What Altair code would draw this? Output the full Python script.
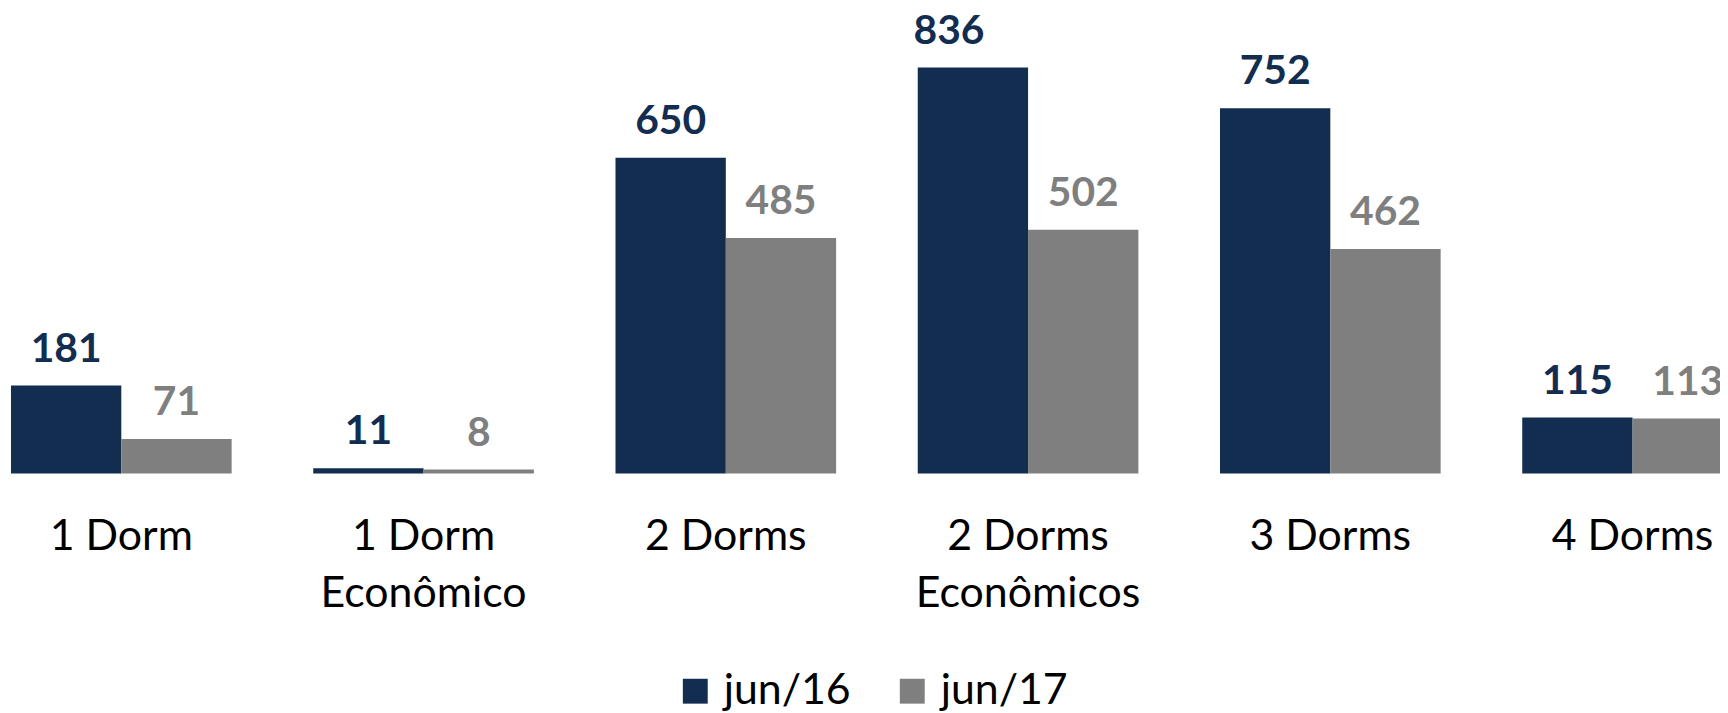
import altair as alt
import pandas as pd

categories = ["1 Dorm", "1 Dorm Econômico", "2 Dorms", "2 Dorms Econômicos", "3 Dorms", "4 Dorms"]
series = ["jun/16", "jun/17"]
jun16 = [181, 11, 650, 836, 752, 115]
jun17 = [71, 8, 485, 502, 462, 113]

rows = []
for c, a, b in zip(categories, jun16, jun17):
    rows.append({"cat": c, "serie": series[0], "valor": a})
    rows.append({"cat": c, "serie": series[1], "valor": b})
df = pd.DataFrame(rows)

NAVY = "#122D50"
GRAY = "#7F7F7F"
FONT = "Lato"

label_expr = (
    "indexof(datum.value, ' Econ') > 0 ? "
    "[slice(datum.value, 0, indexof(datum.value, ' Econ')), "
    "slice(datum.value, indexof(datum.value, ' Econ') + 1)] : datum.value"
)

x = alt.X(
    "cat:N",
    sort=categories,
    scale=alt.Scale(range=[3, 1743], paddingInner=0.27, paddingOuter=0, round=False),
    axis=alt.Axis(
        title=None, domain=False, ticks=False, grid=False, labelAngle=0,
        labelFont=FONT, labelFontSize=43, labelColor="black",
        labelPadding=42, labelLineHeight=58, labelLimit=500,
        labelExpr=label_expr, labelBaseline="top",
    ),
)
xo = alt.XOffset("serie:N", sort=series, scale=alt.Scale(paddingInner=0, paddingOuter=0))
y = alt.Y("valor:Q", scale=alt.Scale(domain=[0, 955], nice=False), axis=None)
color_scale = alt.Scale(domain=series, range=[NAVY, GRAY])

base = alt.Chart(df)

bars = base.mark_bar(cornerRadius=0).encode(
    x=x, xOffset=xo, y=y,
    color=alt.Color(
        "serie:N", sort=series, scale=color_scale,
        legend=alt.Legend(
            title=None, orient="none", direction="horizontal",
            legendX=669, legendY=663, padding=0,
            symbolType="square", symbolSize=625, symbolStrokeWidth=0,
            symbolOpacity=1, labelFont=FONT, labelFontSize=43,
            labelColor="black", labelOffset=7, columnPadding=40,
            labelLimit=300,
        ),
    ),
)

labels_main = base.transform_filter(
    "!(datum.cat == '2 Dorms Econômicos' && datum.serie == 'jun/16')"
).mark_text(
    font=FONT, fontSize=41, fontWeight="bold", baseline="alphabetic", dy=-24
).encode(
    x=x, xOffset=xo, y=y, text="valor:Q",
    color=alt.Color("serie:N", sort=series, scale=color_scale, legend=None),
)

labels_shift = base.transform_filter(
    "datum.cat == '2 Dorms Econômicos' && datum.serie == 'jun/16'"
).mark_text(
    font=FONT, fontSize=41, fontWeight="bold", baseline="alphabetic", dy=-24, dx=-24
).encode(
    x=x, xOffset=xo, y=y, text="valor:Q",
    color=alt.Color("serie:N", sort=series, scale=color_scale, legend=None),
)

chart = (
    alt.layer(bars, labels_main, labels_shift)
    .properties(
        width=1712, height=466,
        autosize=alt.AutoSizeParams(type="none"),
        padding={"left": 0, "top": 0, "right": 8, "bottom": 239},
        background="white",
    )
    .configure_view(strokeWidth=0, stroke="transparent")
)

chart.save("out.html", embed_options={"renderer": "svg", "actions": False})
